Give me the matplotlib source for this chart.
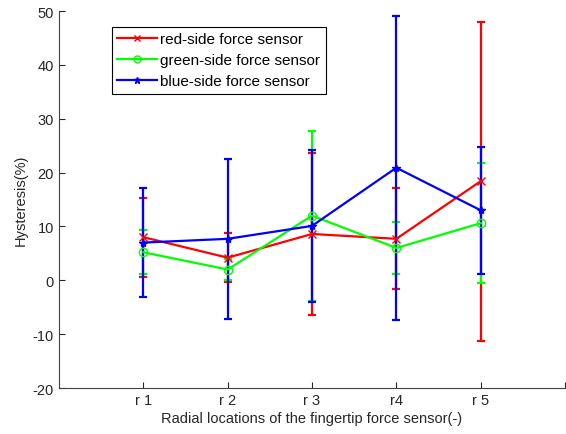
import matplotlib
matplotlib.use("Agg")
import matplotlib.pyplot as plt
from matplotlib.lines import Line2D

plt.rcParams['font.family'] = ['Liberation Sans', 'DejaVu Sans']
plt.rcParams['axes.unicode_minus'] = False

positions = [1, 2, 3, 4, 5]
tick_labels = ['r 1', 'r 2', 'r 3', 'r4', 'r 5']

red_mean = [8.0, 4.2, 8.6, 7.7, 18.4]
red_err = [7.3, 4.6, 15.1, 9.4, 29.6]

green_mean = [5.2, 2.0, 12.0, 6.0, 10.6]
green_err = [4.1, 2.0, 15.8, 4.8, 11.1]

blue_mean = [7.0, 7.7, 10.1, 20.9, 13.0]
blue_err = [10.1, 14.8, 14.1, 28.2, 11.8]

fig = plt.figure(figsize=(5.66, 4.35), dpi=100)
ax = fig.add_axes([0.1042, 0.1057, 0.894, 0.8667])

series = [
    (red_mean, red_err, '#ff0000', 'x', 'red-side force sensor'),
    (green_mean, green_err, '#00ff00', 'o', 'green-side force sensor'),
    (blue_mean, blue_err, '#0000ff', '*', 'blue-side force sensor'),
]
handles = []
for mean, err, col, mk, lab in series:
    ax.errorbar(positions, mean, yerr=err, color=col, marker=mk, markersize=6,
                markerfacecolor='none' if mk == 'o' else col, markeredgecolor=col,
                linewidth=1.6, elinewidth=1.6, capsize=3, capthick=1.6)
    handles.append(Line2D([], [], color=col, marker=mk, markersize=5, linewidth=1.6,
                          markerfacecolor='none' if mk == 'o' else col, label=lab))

ax.set_xlim(0, 6)
ax.set_ylim(-20, 50)
ax.set_xticks(positions + [6])
ax.set_xticklabels(tick_labels + [''])
ax.set_yticks(range(-20, 51, 10))
ax.tick_params(direction='in', length=4, labelsize=10.5, colors='#262626', width=0.8)
for side in ['top', 'right']:
    ax.spines[side].set_visible(False)
for side in ['left', 'bottom']:
    ax.spines[side].set_color('#404040')
    ax.spines[side].set_linewidth(0.8)

ax.set_xlabel('Radial locations of the fingertip force sensor(-)', fontsize=10.5, color='#262626', labelpad=3)
ax.set_ylabel('Hysteresis(%)', fontsize=10.5, color='#262626', labelpad=4)

leg = ax.legend(handles=handles, loc='upper left', bbox_to_anchor=(0.105, 0.9576), borderaxespad=0,
                fontsize=11, fancybox=False, framealpha=1, edgecolor='black', handlelength=2.6,
                borderpad=0.35, labelspacing=0.46, handletextpad=0.2)
leg.get_frame().set_linewidth(0.8)

fig.savefig('out.png', dpi=100)
